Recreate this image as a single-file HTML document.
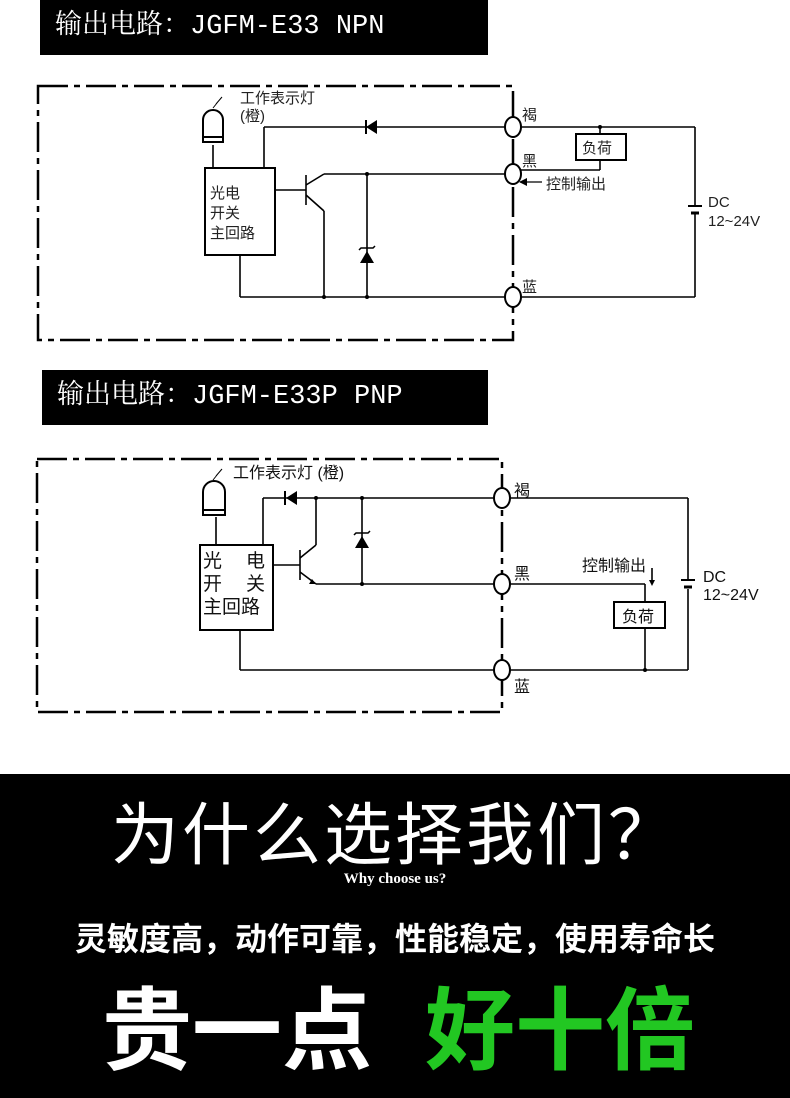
<!DOCTYPE html>
<html><head><meta charset="utf-8"><style>
body{margin:0;width:790px;height:1098px;background:#fff;overflow:hidden;position:relative;font-family:"Liberation Sans","Noto Sans CJK SC",sans-serif}
.hd{position:absolute;background:#000;color:#fff;font-family:"Liberation Mono","Noto Serif CJK SC",monospace;font-size:27px;line-height:55px;padding-left:15px;box-sizing:border-box}
svg text{font-family:"Liberation Sans","Noto Sans CJK SC",sans-serif}
.bot{position:absolute;left:0;top:774px;width:790px;height:324px;background:#000}
.t{position:absolute;left:0;width:790px;text-align:center;color:#fff;white-space:nowrap}
</style></head><body>
<div class="hd" style="left:40px;top:0;width:448px;height:55px">输出电路：JGFM-E33 NPN</div>
<div class="hd" style="left:42px;top:370px;width:446px;height:55px">输出电路：JGFM-E33P PNP</div>

<svg width="790" height="772" style="position:absolute;left:0;top:0" xmlns="http://www.w3.org/2000/svg">
<g fill="none" stroke="#000" stroke-width="2">
<rect x="38" y="86" width="475" height="254" stroke-width="2.5" stroke-dasharray="30,6,6,6"/>
<g stroke-width="1.6">
<line x1="264" y1="127" x2="695" y2="127"/>
<line x1="264" y1="127" x2="264" y2="168"/>
<line x1="213" y1="145" x2="213" y2="168"/>
<line x1="324" y1="211" x2="324" y2="297"/>
<line x1="324" y1="174" x2="513" y2="174"/>
<line x1="240" y1="255" x2="240" y2="297"/>
<line x1="240" y1="297" x2="695" y2="297"/>
<line x1="367" y1="174" x2="367" y2="297"/>
<line x1="695" y1="127" x2="695" y2="206"/>
<line x1="695" y1="214" x2="695" y2="297"/>
<line x1="600" y1="127" x2="600" y2="134"/>
<line x1="600" y1="160" x2="600" y2="170"/><line x1="513" y1="170" x2="600" y2="170"/>
<line x1="275" y1="190" x2="306" y2="190"/>
<line x1="306" y1="175" x2="306" y2="205"/>
<line x1="306" y1="185" x2="324" y2="174"/>
<line x1="306" y1="195" x2="324" y2="211"/>
</g>
<rect x="205" y="168" width="70" height="87" fill="#fff" stroke-width="2"/>
<rect x="576" y="134" width="50" height="26" fill="#fff" stroke-width="2"/>
<line x1="688" y1="206" x2="702" y2="206"/><line x1="691" y1="213" x2="699" y2="213" stroke-width="3"/>
<path d="M203,142 V120 a10,10 0 0 1 20,0 V142Z" stroke-width="2"/><line x1="203" y1="137" x2="223" y2="137"/>
<path d="M213,108 l8,-10 M216,104 l6,-7" stroke-width="1"/>
<ellipse cx="513" cy="127" rx="8" ry="10" fill="#fff"/>
<ellipse cx="513" cy="174" rx="8" ry="10" fill="#fff"/>
<ellipse cx="513" cy="297" rx="8" ry="10" fill="#fff"/>
<line x1="520" y1="182" x2="542" y2="182" stroke-width="1.3"/>
</g>
<polygon points="377,120 377,134 366,127" fill="#000"/><line x1="366" y1="120" x2="366" y2="134" stroke="#000" stroke-width="2"/>
<polygon points="360,263 374,263 367,251" fill="#000"/><path d="M359,250 L361,248 H373 L375,246" stroke="#000" fill="none" stroke-width="1.5"/>
<polygon points="519,182 527,178 527,186" fill="#000"/>
<g fill="#000" stroke="none"><circle cx="324" cy="297" r="2"/><circle cx="367" cy="297" r="2"/><circle cx="367" cy="174" r="2"/><circle cx="600" cy="127" r="2"/></g>
<g font-size="15" fill="#222">
<text x="240" y="103">工作表示灯</text><text x="240" y="121">(橙)</text>
<text x="522" y="120">褐</text><text x="522" y="166">黑</text><text x="522" y="292">蓝</text>
<text x="546" y="189">控制输出</text>
<text x="582" y="153">负荷</text>
<text x="210" y="198">光电</text><text x="210" y="218">开关</text><text x="210" y="238">主回路</text>
<text x="708" y="207">DC</text><text x="708" y="226">12~24V</text>
</g>

<g fill="none" stroke="#000" stroke-width="2">
<rect x="37" y="459" width="465" height="253" stroke-width="2.5" stroke-dasharray="30,6,6,6"/>
<g stroke-width="1.6">
<line x1="263" y1="498" x2="688" y2="498"/>
<line x1="263" y1="498" x2="263" y2="545"/>
<line x1="216" y1="517" x2="216" y2="545"/>
<line x1="316" y1="498" x2="316" y2="545"/>
<line x1="362" y1="498" x2="362" y2="584"/>
<line x1="316" y1="584" x2="645" y2="584"/><line x1="645" y1="584" x2="645" y2="602"/>
<line x1="645" y1="628" x2="645" y2="670"/>
<line x1="240" y1="630" x2="240" y2="670"/>
<line x1="240" y1="670" x2="688" y2="670"/>
<line x1="688" y1="498" x2="688" y2="580"/><line x1="688" y1="589" x2="688" y2="670"/>
<line x1="273" y1="565" x2="300" y2="565"/>
<line x1="300" y1="550" x2="300" y2="580"/>
<line x1="300" y1="558" x2="316" y2="545"/>
<line x1="300" y1="572" x2="316" y2="584"/>
<line x1="652" y1="568" x2="652" y2="580"/>
</g>
<rect x="200" y="545" width="73" height="85" fill="#fff" stroke-width="2"/>
<rect x="614" y="602" width="51" height="26" fill="#fff" stroke-width="2"/>
<line x1="681" y1="580" x2="695" y2="580"/><line x1="684" y1="587" x2="692" y2="587" stroke-width="3"/>
<path d="M203,515 V492 a11,11 0 0 1 22,0 V515Z" stroke-width="2"/><line x1="203" y1="510" x2="225" y2="510"/>
<path d="M213,480 l8,-10 M216,476 l6,-7" stroke-width="1"/>
<ellipse cx="502" cy="498" rx="8" ry="10" fill="#fff"/>
<ellipse cx="502" cy="584" rx="8" ry="10" fill="#fff"/>
<ellipse cx="502" cy="670" rx="8" ry="10" fill="#fff"/>
</g>
<polygon points="297,491 297,505 286,498" fill="#000"/><line x1="285" y1="491" x2="285" y2="505" stroke="#000" stroke-width="2"/>
<polygon points="355,548 369,548 362,536" fill="#000"/><path d="M354,535 L356,533 H368 L370,531" stroke="#000" fill="none" stroke-width="1.5"/>
<polygon points="312,579 316,584 309,584" fill="#000"/>
<polygon points="649,580 655,580 652,586" fill="#000"/>
<g fill="#000" stroke="none"><circle cx="316" cy="498" r="2"/><circle cx="362" cy="498" r="2"/><circle cx="362" cy="584" r="2"/><circle cx="645" cy="670" r="2"/></g>
<g font-size="16" fill="#111">
<text x="233" y="478">工作表示灯 (橙)</text>
<text x="514" y="496">褐</text><text x="514" y="579">黑</text><text x="514" y="692">蓝</text>
<text x="582" y="571">控制输出</text>
<text x="622" y="622">负荷</text>
<text x="203" y="567" font-size="19">光</text><text x="246" y="567" font-size="19">电</text>
<text x="203" y="590" font-size="19">开</text><text x="246" y="590" font-size="19">关</text>
<text x="203" y="613" font-size="19">主回路</text>
<text x="703" y="582">DC</text><text x="703" y="600">12~24V</text>
</g>
</svg>

<div class="bot"></div>
<div class="t" style="top:790px;font-size:68px;line-height:80px;font-family:'Noto Sans CJK SC',sans-serif;letter-spacing:3px">为什么选择我们？</div>
<div class="t" style="top:871px;font-size:15px;font-weight:bold;font-family:'Liberation Serif',serif">Why choose us?</div>
<div class="t" style="top:915px;font-size:32px;line-height:44px;font-weight:bold;font-family:'Noto Sans CJK SC',sans-serif">灵敏度高，动作可靠，性能稳定，使用寿命长</div>
<div style="position:absolute;left:102px;top:968px;font-size:90px;line-height:110px;font-weight:bold;color:#fff;font-family:'Noto Sans CJK SC',sans-serif;white-space:nowrap">贵一点</div>
<div style="position:absolute;left:425px;top:968px;font-size:90px;line-height:110px;font-weight:bold;color:#22c722;font-family:'Noto Sans CJK SC',sans-serif;white-space:nowrap">好十倍</div>
</body></html>
